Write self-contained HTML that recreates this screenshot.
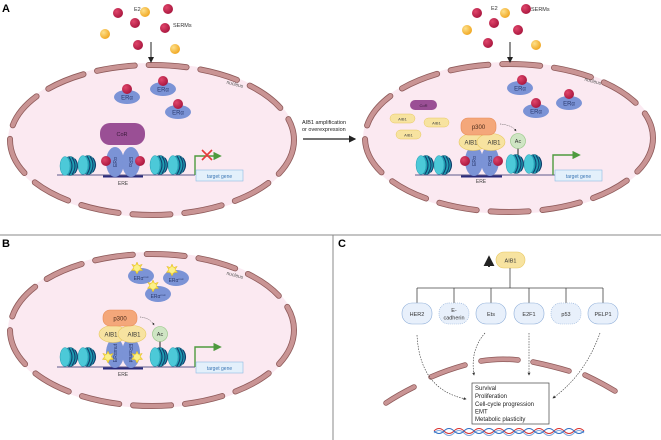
<!DOCTYPE html>
<html><head><meta charset="utf-8"><style>
html,body{margin:0;padding:0;background:#fff;}
svg{display:block;font-family:"Liberation Sans",sans-serif;}
</style></head><body>
<svg width="661" height="440" viewBox="0 0 661 440" xmlns="http://www.w3.org/2000/svg">
<defs>
  <radialGradient id="rb" cx="0.35" cy="0.35" r="0.7"><stop offset="0" stop-color="#e0456a"/><stop offset="1" stop-color="#a8163e"/></radialGradient>
  <radialGradient id="yb" cx="0.35" cy="0.35" r="0.7"><stop offset="0" stop-color="#fde08a"/><stop offset="1" stop-color="#f0a51e"/></radialGradient>
  <g id="nuc">
    <ellipse cx="2" cy="0" rx="7" ry="9.5" fill="#1f9fb3" stroke="#16607a" stroke-width="0.6"/>
    <path d="M1,-9 Q7,0 1,9 M4,-8.5 Q10,0 4,8.5 M7,-7 Q12,0 7,7" fill="none" stroke="#123f6e" stroke-width="1.1"/>
    <ellipse cx="-3" cy="0" rx="5" ry="9.5" fill="#4cc9d8" stroke="#2a9fb3" stroke-width="0.5"/>
  </g>
  <g id="er">
    <ellipse cx="0" cy="0" rx="13" ry="7" fill="#7b93d6"/>
    <text x="0" y="2.5" font-size="6" text-anchor="middle" fill="#2b3a6e">ERα</text>
  </g>
  <marker id="ah" markerWidth="6" markerHeight="6" refX="5" refY="3" orient="auto"><path d="M0,0 L6,3 L0,6 z" fill="#222"/></marker>
  <marker id="ahs" markerWidth="5" markerHeight="5" refX="4" refY="2.5" orient="auto"><path d="M0,0 L5,2.5 L0,5 z" fill="#333"/></marker>
  <marker id="ag" markerWidth="6" markerHeight="6" refX="4" refY="3" orient="auto"><path d="M0,0 L6,3 L0,6 z" fill="#4e9a3e"/></marker>
  <g id="star"><path d="M0,-6 L1.6,-2.5 L5.2,-3.6 L3.2,-0.5 L5.6,2.4 L1.8,2.6 L0,6 L-1.8,2.6 L-5.6,2.4 L-3.2,-0.5 L-5.2,-3.6 L-1.6,-2.5 Z" fill="#f7e04a" stroke="#e0b820" stroke-width="0.5"/><circle r="3" fill="#fbf08a"/></g>
</defs>

<!-- Labels -->
<text x="2" y="12" font-size="11" font-weight="bold">A</text>
<text x="2" y="247" font-size="11" font-weight="bold">B</text>
<text x="338" y="247" font-size="11" font-weight="bold">C</text>

<!-- dividers -->
<line x1="0" y1="235" x2="661" y2="235" stroke="#888" stroke-width="1"/>
<line x1="333" y1="235" x2="333" y2="440" stroke="#888" stroke-width="1"/>

<!-- ===== Panel A left ===== -->
<ellipse cx="152" cy="140" rx="144" ry="77" fill="#fbe9f1"/>
<ellipse cx="152" cy="140" rx="142" ry="75" fill="none" stroke="#8e5a5a" stroke-width="6" stroke-dasharray="38 14" stroke-linecap="round"/>
<ellipse cx="152" cy="140" rx="142" ry="75" fill="none" stroke="#c99494" stroke-width="4.4" stroke-dasharray="38 14" stroke-linecap="round"/>
<text x="134" y="11" font-size="5.5" fill="#333">E2</text>
<text x="173" y="27" font-size="5.5" fill="#333">SERMs</text>
<circle cx="118" cy="13" r="5" fill="url(#rb)"/><circle cx="168" cy="9" r="5" fill="url(#rb)"/><circle cx="135" cy="23" r="5" fill="url(#rb)"/><circle cx="165" cy="28" r="5" fill="url(#rb)"/><circle cx="138" cy="45" r="5" fill="url(#rb)"/>
<circle cx="145" cy="12" r="5" fill="url(#yb)"/><circle cx="105" cy="34" r="5" fill="url(#yb)"/><circle cx="175" cy="49" r="5" fill="url(#yb)"/>
<line x1="151" y1="42" x2="151" y2="62" stroke="#222" stroke-width="1" marker-end="url(#ah)"/>
<use href="#er" x="127" y="97"/><circle cx="127" cy="89" r="5" fill="url(#rb)"/>
<use href="#er" x="163" y="89"/><circle cx="163" cy="81" r="5" fill="url(#rb)"/>
<use href="#er" x="178" y="112"/><circle cx="178" cy="104" r="5" fill="url(#rb)"/>
<text x="226" y="85" font-size="5" fill="#555" transform="rotate(15 232 85)">nucleus</text>
<rect x="100" y="123" width="45" height="22" rx="10" fill="#9a4f95"/>
<text x="122" y="136" font-size="5.5" text-anchor="middle" fill="#3a1a3a">CoR</text>
<line x1="57" y1="175" x2="195" y2="175" stroke="#2a2a6a" stroke-width="0.8"/>
<line x1="103" y1="176.5" x2="143" y2="176.5" stroke="#2a2a7a" stroke-width="2"/>
<text x="123" y="185" font-size="5" text-anchor="middle" fill="#444">ERE</text>
<ellipse cx="115" cy="162" rx="9" ry="15" fill="#7b93d6"/><ellipse cx="131" cy="162" rx="9" ry="15" fill="#7b93d6"/>
<text font-size="5" fill="#2b3a6e" transform="translate(117 162) rotate(-90)" text-anchor="middle">ERα</text>
<text font-size="5" fill="#2b3a6e" transform="translate(129 162) rotate(90)" text-anchor="middle">ERα</text>
<circle cx="106" cy="161" r="5" fill="url(#rb)"/><circle cx="140" cy="161" r="5" fill="url(#rb)"/>
<use href="#nuc" x="68" y="166"/><use href="#nuc" x="86" y="165"/><use href="#nuc" x="158" y="165"/><use href="#nuc" x="176" y="165"/>
<path d="M195,175 L195,156 L219,156" fill="none" stroke="#4e9a3e" stroke-width="1.4" marker-end="url(#ag)"/>
<path d="M202,150 L212,160 M212,150 L202,160" stroke="#e53b3b" stroke-width="1.6"/>
<rect x="196" y="170" width="47" height="11" fill="#e3f0fb" stroke="#8dbbe3" stroke-width="0.6"/>
<text x="219.5" y="178" font-size="5" text-anchor="middle" fill="#3b76b5">target gene</text>

<!-- middle arrow -->
<text x="302" y="124" font-size="5.5" fill="#222">AIB1 amplification</text>
<text x="302" y="131" font-size="5.5" fill="#222">or overexpression</text>
<line x1="303" y1="139" x2="355" y2="139" stroke="#222" stroke-width="1.2" marker-end="url(#ah)"/>

<!-- ===== Panel A right ===== -->
<ellipse cx="509" cy="138" rx="146" ry="76" fill="#fbe9f1"/>
<ellipse cx="509" cy="138" rx="144" ry="74" fill="none" stroke="#8e5a5a" stroke-width="6" stroke-dasharray="38 14" stroke-linecap="round"/>
<ellipse cx="509" cy="138" rx="144" ry="74" fill="none" stroke="#c99494" stroke-width="4.4" stroke-dasharray="38 14" stroke-linecap="round"/>
<text x="491" y="10" font-size="5.5" fill="#333">E2</text>
<text x="531" y="11" font-size="5.5" fill="#333">SERMs</text>
<circle cx="477" cy="13" r="5" fill="url(#rb)"/><circle cx="494" cy="23" r="5" fill="url(#rb)"/><circle cx="526" cy="9" r="5" fill="url(#rb)"/><circle cx="518" cy="30" r="5" fill="url(#rb)"/><circle cx="488" cy="43" r="5" fill="url(#rb)"/>
<circle cx="505" cy="13" r="5" fill="url(#yb)"/><circle cx="467" cy="30" r="5" fill="url(#yb)"/><circle cx="536" cy="45" r="5" fill="url(#yb)"/>
<line x1="510" y1="42" x2="510" y2="62" stroke="#222" stroke-width="1" marker-end="url(#ah)"/>
<use href="#er" x="520" y="88"/><circle cx="522" cy="80" r="5" fill="url(#rb)"/>
<use href="#er" x="536" y="111"/><circle cx="536" cy="103" r="5" fill="url(#rb)"/>
<use href="#er" x="569" y="103"/><circle cx="569" cy="94" r="5" fill="url(#rb)"/>
<text x="584" y="82" font-size="5" fill="#555" transform="rotate(15 590 82)">nucleus</text>
<rect x="410" y="100" width="27" height="10" rx="5" fill="#9a4f95"/>
<text x="423.5" y="107" font-size="4" text-anchor="middle" fill="#3a1a3a">CoR</text>
<rect x="390" y="114" width="25" height="9" rx="4.5" fill="#f7e3a0" stroke="#e8c860" stroke-width="0.5"/><text x="402.5" y="120.5" font-size="4" text-anchor="middle" fill="#444">AIB1</text>
<rect x="424" y="118" width="25" height="9" rx="4.5" fill="#f7e3a0" stroke="#e8c860" stroke-width="0.5"/><text x="436.5" y="124.5" font-size="4" text-anchor="middle" fill="#444">AIB1</text>
<rect x="396" y="130" width="25" height="9" rx="4.5" fill="#f7e3a0" stroke="#e8c860" stroke-width="0.5"/><text x="408.5" y="136.5" font-size="4" text-anchor="middle" fill="#444">AIB1</text>
<line x1="415" y1="175" x2="555" y2="175" stroke="#2a2a6a" stroke-width="0.8"/>
<line x1="461" y1="176.5" x2="502" y2="176.5" stroke="#2a2a7a" stroke-width="2"/>
<text x="481" y="183" font-size="5" text-anchor="middle" fill="#444">ERE</text>
<ellipse cx="474" cy="161" rx="9" ry="15" fill="#7b93d6"/><ellipse cx="490" cy="161" rx="9" ry="15" fill="#7b93d6"/>
<text font-size="5" fill="#2b3a6e" transform="translate(476 161) rotate(-90)" text-anchor="middle">ERα</text>
<text font-size="5" fill="#2b3a6e" transform="translate(488 161) rotate(90)" text-anchor="middle">ERα</text>
<circle cx="465" cy="161" r="5" fill="url(#rb)"/><circle cx="498" cy="161" r="5" fill="url(#rb)"/>
<ellipse cx="473" cy="142" rx="14" ry="8.5" fill="#f7e3a0" stroke="#e8c860" stroke-width="0.6"/>
<ellipse cx="491" cy="142" rx="14" ry="8.5" fill="#f7e3a0" stroke="#e8c860" stroke-width="0.6"/>
<text x="471" y="144.5" font-size="6" text-anchor="middle" fill="#333">AIB1</text><text x="494" y="144.5" font-size="6" text-anchor="middle" fill="#333">AIB1</text>
<rect x="461" y="118" width="35" height="17" rx="7" fill="#f4a77a" stroke="#e88a56" stroke-width="0.6"/>
<text x="478.5" y="129" font-size="6" text-anchor="middle" fill="#4a2a1a">p300</text>
<path d="M500,124 Q512,125 516,131" fill="none" stroke="#333" stroke-width="0.5" stroke-dasharray="1.2 1" marker-end="url(#ahs)"/>
<line x1="518" y1="148" x2="518" y2="156" stroke="#222" stroke-width="1"/>
<circle cx="518" cy="141" r="7.5" fill="#cfe5c4" stroke="#8bc37a" stroke-width="0.6"/>
<text x="518" y="143" font-size="5.5" text-anchor="middle" fill="#333">Ac</text>
<use href="#nuc" x="424" y="165"/><use href="#nuc" x="442" y="165"/><use href="#nuc" x="514" y="164"/><use href="#nuc" x="532" y="164"/>
<path d="M553,175 L553,155 L578,155" fill="none" stroke="#4e9a3e" stroke-width="1.4" marker-end="url(#ag)"/>
<rect x="555" y="170" width="47" height="11" fill="#e3f0fb" stroke="#8dbbe3" stroke-width="0.6"/>
<text x="578.5" y="178" font-size="5" text-anchor="middle" fill="#3b76b5">target gene</text>

<!-- ===== Panel B ===== -->
<ellipse cx="152" cy="330" rx="144" ry="78" fill="#fbe9f1"/>
<ellipse cx="152" cy="330" rx="142" ry="76" fill="none" stroke="#8e5a5a" stroke-width="6" stroke-dasharray="38 14" stroke-linecap="round"/>
<ellipse cx="152" cy="330" rx="142" ry="76" fill="none" stroke="#c99494" stroke-width="4.4" stroke-dasharray="38 14" stroke-linecap="round"/>
<text x="226" y="276" font-size="5" fill="#555" transform="rotate(15 232 276)">nucleus</text>
<g fill="#7b93d6">
<ellipse cx="141" cy="276" rx="13" ry="8"/><ellipse cx="176" cy="278" rx="13" ry="8"/><ellipse cx="158" cy="294" rx="13" ry="8"/>
</g>
<use href="#star" x="137" y="268"/><use href="#star" x="172" y="270"/><use href="#star" x="153" y="286"/>
<text x="141" y="280" font-size="5" text-anchor="middle" fill="#2b3a6e">ERα<tspan font-size="3" dy="-2">mut</tspan></text>
<text x="176" y="282" font-size="5" text-anchor="middle" fill="#2b3a6e">ERα<tspan font-size="3" dy="-2">mut</tspan></text>
<text x="158" y="298" font-size="5" text-anchor="middle" fill="#2b3a6e">ERα<tspan font-size="3" dy="-2">mut</tspan></text>
<line x1="57" y1="367" x2="195" y2="367" stroke="#2a2a6a" stroke-width="0.8"/>
<line x1="103" y1="368.5" x2="143" y2="368.5" stroke="#2a2a7a" stroke-width="2"/>
<text x="123" y="376" font-size="5" text-anchor="middle" fill="#444">ERE</text>
<ellipse cx="115" cy="353" rx="9" ry="15" fill="#7b93d6"/><ellipse cx="131" cy="353" rx="9" ry="15" fill="#7b93d6"/>
<text font-size="5" fill="#2b3a6e" transform="translate(117 353) rotate(-90)" text-anchor="middle">ERαmut</text>
<text font-size="5" fill="#2b3a6e" transform="translate(129 353) rotate(90)" text-anchor="middle">ERαmut</text>
<use href="#star" x="108" y="357"/><use href="#star" x="137" y="357"/>
<ellipse cx="113" cy="334" rx="14" ry="8.5" fill="#f7e3a0" stroke="#e8c860" stroke-width="0.6"/>
<ellipse cx="132" cy="334" rx="14" ry="8.5" fill="#f7e3a0" stroke="#e8c860" stroke-width="0.6"/>
<text x="111" y="336.5" font-size="6" text-anchor="middle" fill="#333">AIB1</text><text x="134" y="336.5" font-size="6" text-anchor="middle" fill="#333">AIB1</text>
<rect x="103" y="310" width="34" height="16" rx="7" fill="#f4a77a" stroke="#e88a56" stroke-width="0.6"/>
<text x="120" y="320.5" font-size="6" text-anchor="middle" fill="#4a2a1a">p300</text>
<path d="M140,317 Q150,318 154,325" fill="none" stroke="#333" stroke-width="0.5" stroke-dasharray="1.2 1" marker-end="url(#ahs)"/>
<line x1="160" y1="340" x2="160" y2="348" stroke="#222" stroke-width="1"/>
<circle cx="160" cy="334" r="7.5" fill="#cfe5c4" stroke="#8bc37a" stroke-width="0.6"/>
<text x="160" y="336" font-size="5.5" text-anchor="middle" fill="#333">Ac</text>
<use href="#nuc" x="68" y="357"/><use href="#nuc" x="86" y="357"/><use href="#nuc" x="158" y="357"/><use href="#nuc" x="176" y="357"/>
<path d="M195,367 L195,347 L219,347" fill="none" stroke="#4e9a3e" stroke-width="1.4" marker-end="url(#ag)"/>
<rect x="196" y="362" width="47" height="11" fill="#e3f0fb" stroke="#8dbbe3" stroke-width="0.6"/>
<text x="219.5" y="370" font-size="5" text-anchor="middle" fill="#3b76b5">target gene</text>

<!-- ===== Panel C ===== -->
<path d="M489,267 L489,257" stroke="#222" stroke-width="1.8" marker-end="url(#ah)"/>
<rect x="496" y="252" width="29" height="16" rx="8" fill="#f7e3a0" stroke="#e8c860" stroke-width="0.6"/>
<text x="510.5" y="262.5" font-size="5.5" text-anchor="middle" fill="#333">AIB1</text>
<g stroke="#444" stroke-width="0.8" fill="none">
<line x1="510" y1="268" x2="510" y2="288"/>
<line x1="417" y1="288" x2="603" y2="288"/>
<line x1="417" y1="288" x2="417" y2="303"/><line x1="454" y1="288" x2="454" y2="303"/><line x1="491" y1="288" x2="491" y2="303"/><line x1="529" y1="288" x2="529" y2="303"/><line x1="566" y1="288" x2="566" y2="303"/><line x1="603" y1="288" x2="603" y2="303"/>
</g>
<g font-size="5.5" text-anchor="middle" fill="#333">
<rect x="402" y="303" width="30" height="21" rx="10" fill="#e8f0fb" stroke="#8dadd8" stroke-width="0.6"/><text x="417" y="316">HER2</text>
<rect x="439" y="303" width="30" height="21" rx="10" fill="#e8f0fb" stroke="#8dadd8" stroke-width="0.6" stroke-dasharray="1 1"/><text x="454" y="312">E-</text><text x="454" y="319.5">cadherin</text>
<rect x="476" y="303" width="30" height="21" rx="10" fill="#e8f0fb" stroke="#8dadd8" stroke-width="0.6"/><text x="491" y="316">Ets</text>
<rect x="514" y="303" width="30" height="21" rx="10" fill="#e8f0fb" stroke="#8dadd8" stroke-width="0.6"/><text x="529" y="316">E2F1</text>
<rect x="551" y="303" width="30" height="21" rx="10" fill="#e8f0fb" stroke="#8dadd8" stroke-width="0.6" stroke-dasharray="1 1"/><text x="566" y="316">p53</text>
<rect x="588" y="303" width="30" height="21" rx="10" fill="#e8f0fb" stroke="#8dadd8" stroke-width="0.6"/><text x="603" y="316">PELP1</text>
</g>
<!-- nucleus arcs -->
<g stroke-linecap="round" fill="none">
<g stroke="#8e5a5a" stroke-width="5.5">
<path d="M386,403 Q398,395 414,387"/><path d="M431,377 Q447,370 465,365"/><path d="M481,361 Q499,358 518,360"/><path d="M533,362 Q552,366 569,371"/><path d="M585,375 Q600,382 615,391"/>
</g>
<g stroke="#c99494" stroke-width="4">
<path d="M386,403 Q398,395 414,387"/><path d="M431,377 Q447,370 465,365"/><path d="M481,361 Q499,358 518,360"/><path d="M533,362 Q552,366 569,371"/><path d="M585,375 Q600,382 615,391"/>
</g>
</g>
<!-- dashed arrows -->
<g fill="none" stroke="#333" stroke-width="0.6" stroke-dasharray="1.5 1.2">
<path d="M417,335 Q420,390 466,399" marker-end="url(#ahs)"/>
<path d="M485,333 Q470,350 474,375" marker-end="url(#ahs)"/>
<path d="M529,333 L529,375" marker-end="url(#ahs)"/>
<path d="M600,333 Q585,375 553,398" marker-end="url(#ahs)"/>
</g>
<rect x="472" y="383" width="77" height="41" fill="#fff" stroke="#444" stroke-width="0.7"/>
<g font-size="6" fill="#222">
<text x="475" y="390">Survival</text><text x="475" y="398">Proliferation</text><text x="475" y="406">Cell-cycle progression</text><text x="475" y="413.5">EMT</text><text x="475" y="421">Metabolic plasticity</text>
</g>
<!-- DNA helix -->
<g fill="none" stroke-width="1">
<path d="M434,431 q5,-5 10,0 t10,0 t10,0 t10,0 t10,0 t10,0 t10,0 t10,0 t10,0 t10,0 t10,0 t10,0 t10,0 t10,0 t10,0" stroke="#d8312e"/>
<path d="M434,431 q5,5 10,0 t10,0 t10,0 t10,0 t10,0 t10,0 t10,0 t10,0 t10,0 t10,0 t10,0 t10,0 t10,0 t10,0 t10,0" stroke="#2f6fc4"/>
<path d="M434,433 q5,-5 10,0 t10,0 t10,0 t10,0 t10,0 t10,0 t10,0 t10,0 t10,0 t10,0 t10,0 t10,0 t10,0 t10,0 t10,0" stroke="#2f6fc4" opacity="0.6"/>
</g>
</svg>
</body></html>
